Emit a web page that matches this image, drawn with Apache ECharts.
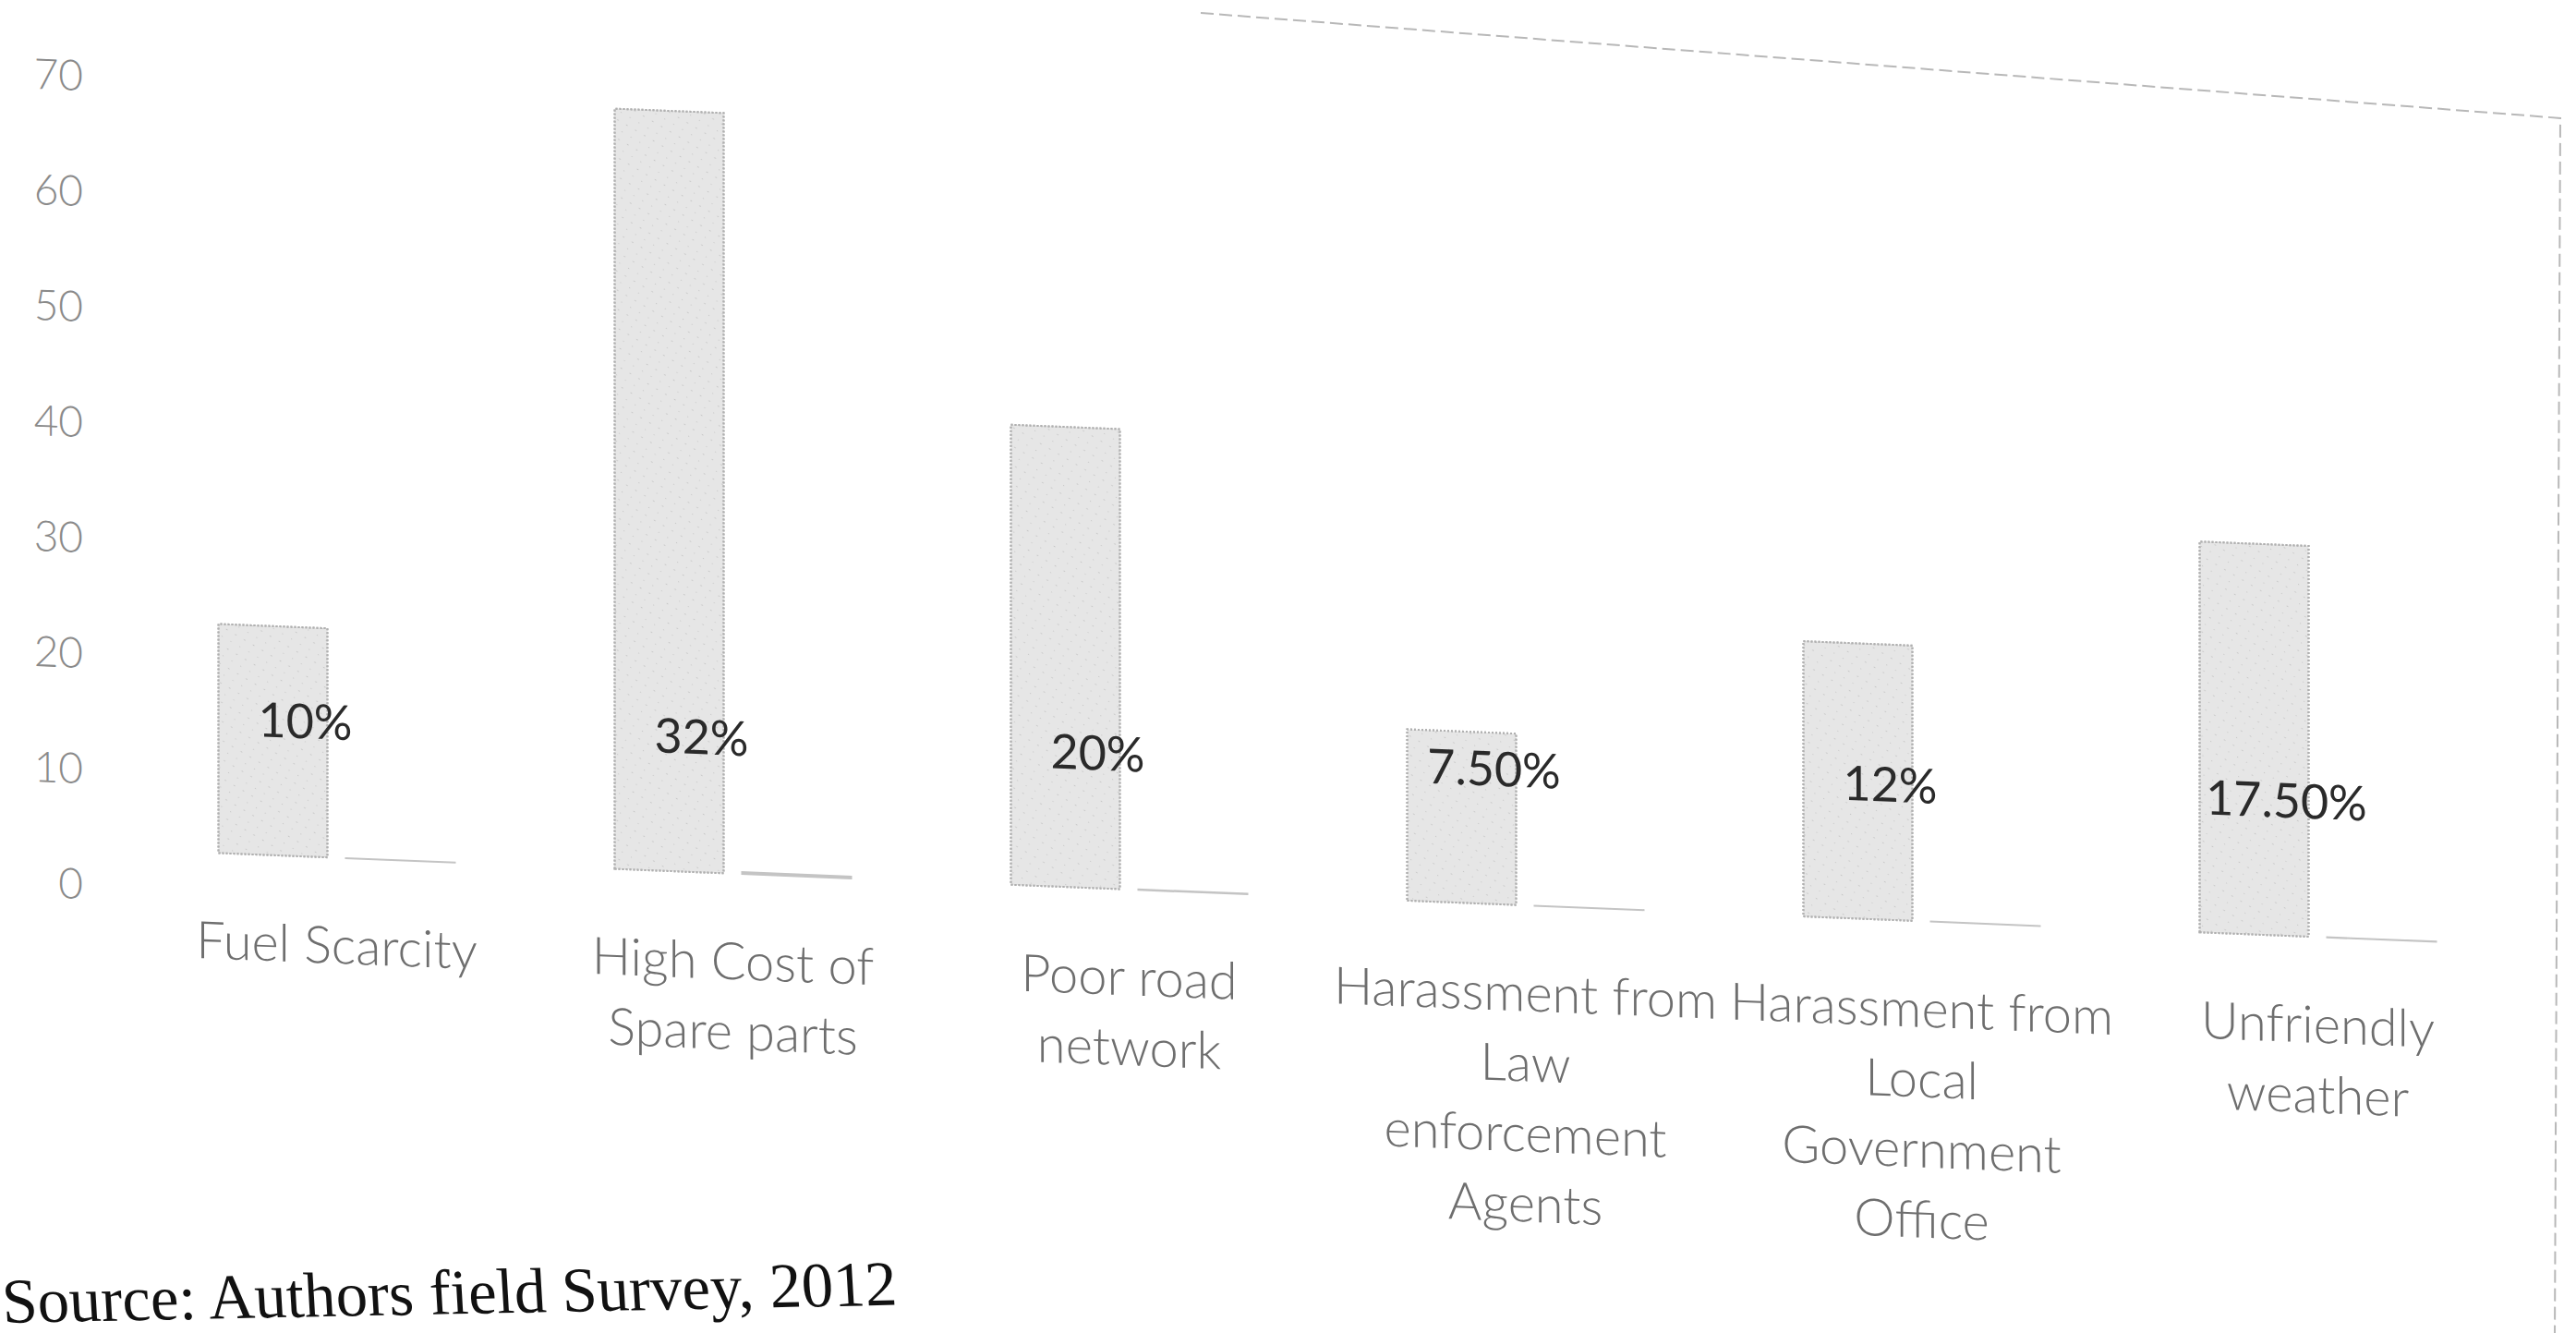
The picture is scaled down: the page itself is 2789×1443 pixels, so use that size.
<!DOCTYPE html>
<html>
<head>
<meta charset="utf-8">
<script src="https://cdn.jsdelivr.net/npm/echarts@6/dist/echarts.min.js"></script>
<style>
  html, body { margin: 0; padding: 0; background: #ffffff; overflow: hidden; width: 2789px; height: 1443px; position: relative; }
  /* the reference is a photographed page: the sheet is slightly sheared */
  #chart { position: absolute; left: 0; top: -100px; width: 2789px; height: 1543px;
           transform-origin: 0 0; transform: matrix(1, 0.04, 0, 1, 0, 0); }
</style>
</head>
<body>
<div id="chart"></div>
<script>
// ---- data ----
const categories = [
  'Fuel Scarcity',
  'High Cost of\nSpare parts',
  'Poor road\nnetwork',
  'Harassment from\nLaw\nenforcement\nAgents',
  'Harassment from\nLocal\nGovernment\nOffice',
  'Unfriendly\nweather'
];
const counts = [20, 66, 40, 15, 24, 34];
const percentValues = [0.10, 0.32, 0.20, 0.075, 0.12, 0.175];
const percentLabels = ['10%', '32%', '20%', '7.50%', '12%', '17.50%'];
const yMin = 0;
const yMax = 70;
const yStep = 10;
const sourceNote = 'Source: Authors field Survey, 2012';

// ---- chart ----
const chart = echarts.init(document.getElementById('chart'), null, { renderer: 'svg' });

chart.setOption({
  backgroundColor: 'transparent',
  animation: false,
  grid: { left: 150, right: 65, top: 140, bottom: 528, containLabel: false },
  xAxis: {
    type: 'category',
    data: categories,
    axisLine: { show: false },
    axisTick: { show: false },
    splitLine: { show: false },
    axisLabel: {
      interval: 0,
      margin: 54,
      fontFamily: 'Lato',
      fontWeight: 300,
      fontSize: 56,
      lineHeight: 76,
      color: '#6e6e6e',
      align: 'center'
    }
  },
  yAxis: {
    type: 'value',
    min: yMin,
    max: yMax,
    interval: yStep,
    axisLine: { show: false },
    axisTick: { show: false },
    splitLine: { show: false },
    axisLabel: {
      margin: 60,
      verticalAlign: 'top',
      lineHeight: 74,
      fontFamily: 'Lato',
      fontWeight: 300,
      fontSize: 46,
      color: '#8a8a8a'
    }
  },
  series: [
    {
      name: 'Respondents',
      type: 'bar',
      data: counts,
      barWidth: 120,
      barGap: '15%',
      itemStyle: {
        color: '#e6e6e6',
        borderColor: '#b0b0b0',
        borderWidth: 2,
        borderType: 'dotted',
        decal: {
          symbol: 'rect',
          symbolSize: 0.35,
          color: 'rgba(140,140,140,0.35)',
          dashArrayX: [[3, 8], [5, 6]],
          dashArrayY: [3, 6],
          rotation: 0.5
        }
      },
      label: {
        show: true,
        position: 'insideBottom',
        distance: 0,
        offset: [35, -123],
        formatter: function (p) { return percentLabels[p.dataIndex]; },
        fontFamily: 'Lato',
        fontSize: 52,
        color: '#2a2a2a'
      }
    },
    {
      name: 'Percentage',
      type: 'bar',
      data: percentValues,
      barWidth: 120,
      barMinHeight: 2,
      itemStyle: { color: '#c4c4c4' },
      label: { show: false }
    }
  ],
  graphic: [
    {
      type: 'polyline',
      silent: true,
      shape: { points: [[1300, 62], [2772, 117], [2766, 1440]] },
      style: { stroke: '#b8b8b8', lineWidth: 2, lineDash: [14, 6], fill: null }
    },
    {
      type: 'text',
      x: 2,
      y: 1509,
      rotation: 0.06,
      style: {
        text: sourceNote,
        font: '69px "Liberation Serif"',
        fill: '#111111',
        align: 'left',
        verticalAlign: 'middle'
      }
    }
  ]
});
</script>
</body>
</html>
